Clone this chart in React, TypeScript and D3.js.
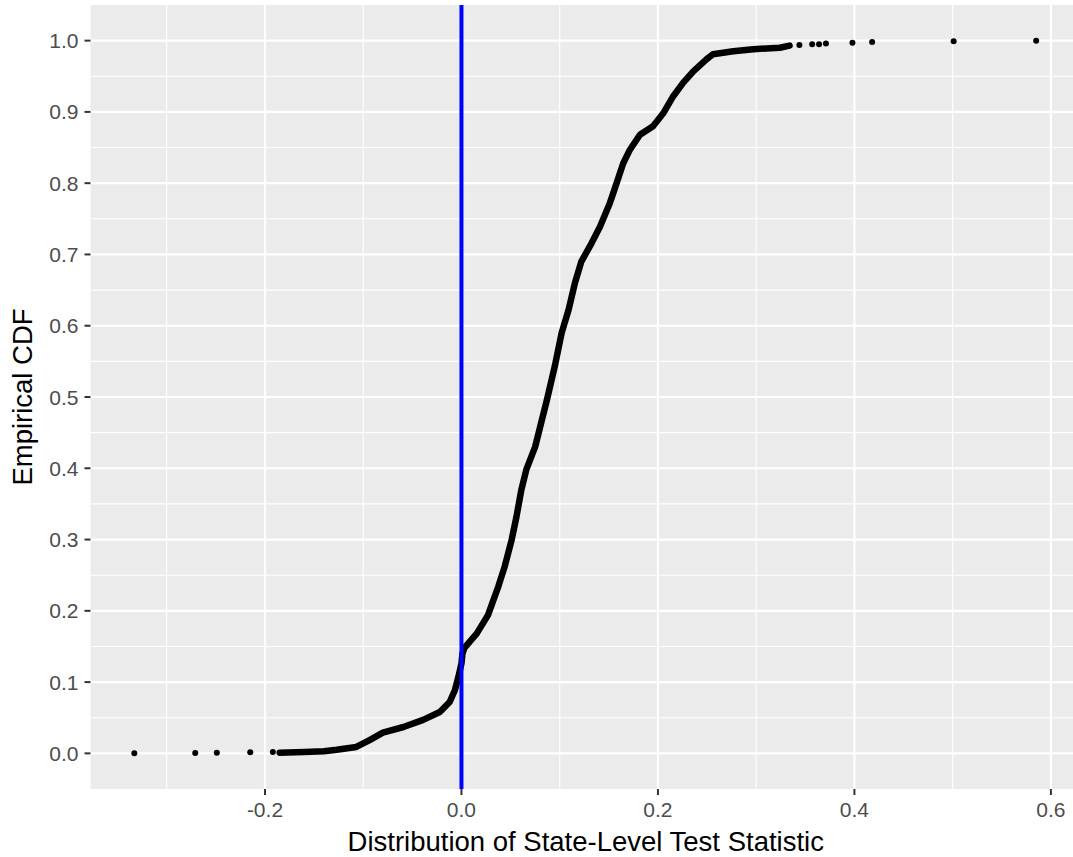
import React from "react";
import * as d3 from "d3";

// ECDF curve (dense part of the points)
const cdfX = [
  -0.185, -0.16, -0.14, -0.127, -0.107, -0.093, -0.08, -0.059, -0.039, -0.022,
  -0.012, -0.0066, -0.003, 0.0, 0.001, 0.003, 0.0155, 0.027, 0.0375, 0.044,
  0.051, 0.056, 0.061, 0.066, 0.075, 0.087, 0.095, 0.102, 0.109, 0.1155, 0.122,
  0.1325, 0.141, 0.151, 0.1545, 0.1647, 0.1715, 0.1817, 0.195, 0.2054, 0.2156,
  0.2258, 0.236, 0.2496, 0.256, 0.2767, 0.297, 0.324, 0.334,
];
const cdfY = [
  0.001, 0.002, 0.003, 0.005, 0.009, 0.019, 0.029, 0.037, 0.047, 0.058, 0.072,
  0.089, 0.108, 0.126, 0.14, 0.148, 0.168, 0.194, 0.234, 0.262, 0.299, 0.332,
  0.37, 0.398, 0.43, 0.496, 0.543, 0.59, 0.622, 0.66, 0.69, 0.716, 0.739, 0.772,
  0.786, 0.828, 0.847, 0.868, 0.88, 0.898, 0.922, 0.941, 0.957, 0.974, 0.981,
  0.985, 0.988, 0.99, 0.993,
];

// isolated points in both tails
const tailX = [-0.333, -0.271, -0.249, -0.215, -0.192, 0.344, 0.357, 0.364, 0.371, 0.398, 0.418, 0.501, 0.585];
const tailY = [0.0, 0.0005, 0.001, 0.0015, 0.002, 0.994, 0.995, 0.995, 0.996, 0.997, 0.998, 0.999, 1.0];

const xTicks = [-0.2, 0.0, 0.2, 0.4, 0.6];
const xMinor = [-0.3, -0.1, 0.1, 0.3, 0.5];
const yTicks = [0.0, 0.1, 0.2, 0.3, 0.4, 0.5, 0.6, 0.7, 0.8, 0.9, 1.0];
const yMinor = [0.05, 0.15, 0.25, 0.35, 0.45, 0.55, 0.65, 0.75, 0.85, 0.95];
const vlineX = [0];

const xTitle = "Distribution of State-Level Test Statistic";
const yTitle = "Empirical CDF";

// ggplot prints a plain hyphen for negatives
const fmt = (v: number) => v.toFixed(1);

const App = () => {
  const width = 1073;
  const height = 857;
  const panel = { left: 90.5, right: 1073, top: 5, bottom: 789 };

  const x = d3.scaleLinear().domain([-0.3776, 0.6225]).range([panel.left, panel.right]);
  const y = d3.scaleLinear().domain([-0.05, 1.05]).range([panel.bottom, panel.top]);

  const curve = d3
    .line<number>()
    .x((d, i) => x(cdfX[i]))
    .y((d, i) => y(cdfY[i]));

  const tickColor = "#333333";
  const labelColor = "#4D4D4D";
  const font = "'Liberation Sans', Arial, Helvetica, sans-serif";

  return (
    <svg
      width={width}
      height={height}
      style={{ position: "absolute", left: 0, top: 0, background: "white" }}
      fontFamily={font}
    >
      <rect
        x={panel.left}
        y={panel.top}
        width={panel.right - panel.left}
        height={panel.bottom - panel.top}
        fill="#EBEBEB"
      />
      {/* minor grid */}
      {yMinor.map((v) => (
        <line key={"ym" + v} x1={panel.left} x2={panel.right} y1={y(v)} y2={y(v)} stroke="white" strokeWidth={1.1} />
      ))}
      {xMinor.map((v) => (
        <line key={"xm" + v} x1={x(v)} x2={x(v)} y1={panel.top} y2={panel.bottom} stroke="white" strokeWidth={1.1} />
      ))}
      {/* major grid */}
      {yTicks.map((v) => (
        <line key={"yg" + v} x1={panel.left} x2={panel.right} y1={y(v)} y2={y(v)} stroke="white" strokeWidth={2.2} />
      ))}
      {xTicks.map((v) => (
        <line key={"xg" + v} x1={x(v)} x2={x(v)} y1={panel.top} y2={panel.bottom} stroke="white" strokeWidth={2.2} />
      ))}

      {/* ecdf points */}
      <path
        d={curve(cdfX) || ""}
        fill="none"
        stroke="black"
        strokeWidth={6.5}
        strokeLinejoin="round"
        strokeLinecap="round"
      />
      {tailX.map((v, i) => (
        <circle key={"t" + i} cx={x(v)} cy={y(tailY[i])} r={3} fill="black" />
      ))}

      {/* vertical reference line */}
      {vlineX.map((v) => (
        <line key={"v" + v} x1={x(v)} x2={x(v)} y1={panel.top} y2={panel.bottom} stroke="#0000FF" strokeWidth={4} />
      ))}

      {/* y axis */}
      {yTicks.map((v) => (
        <g key={"yt" + v}>
          <line x1={panel.left - 6} x2={panel.left} y1={y(v)} y2={y(v)} stroke={tickColor} strokeWidth={2} />
          <text x={panel.left - 12} y={y(v)} dy="0.36em" textAnchor="end" fontSize={21} fill={labelColor}>
            {fmt(v)}
          </text>
        </g>
      ))}
      {/* x axis */}
      {xTicks.map((v) => (
        <g key={"xt" + v}>
          <line x1={x(v)} x2={x(v)} y1={panel.bottom} y2={panel.bottom + 6} stroke={tickColor} strokeWidth={2} />
          <text x={x(v)} y={panel.bottom + 28} textAnchor="middle" fontSize={21} fill={labelColor}>
            {fmt(v)}
          </text>
        </g>
      ))}

      <text
        x={(panel.left + 1081) / 2}
        y={851}
        textAnchor="middle"
        fontSize={27.5}
        fill="black"
      >
        {xTitle}
      </text>
      <text
        transform={`translate(32, ${(panel.top + panel.bottom) / 2}) rotate(-90)`}
        textAnchor="middle"
        fontSize={27.5}
        fill="black"
      >
        {yTitle}
      </text>
    </svg>
  );
};

export default App;
